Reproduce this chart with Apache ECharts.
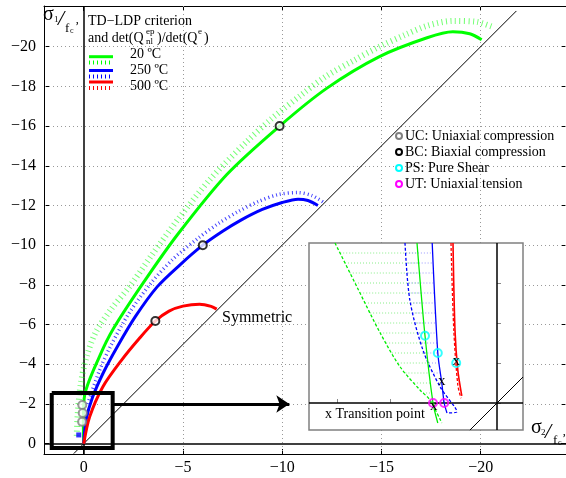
<!DOCTYPE html>
<html><head><meta charset="utf-8">
<script src="https://cdn.jsdelivr.net/npm/echarts@6/dist/echarts.min.js"></script>
<style>html,body{margin:0;padding:0;background:#fff}#c{width:566px;height:478px}</style>
</head><body><div id="c"></div>
<script>
// ---------- main chart data (sigma2/fc', sigma1/fc') ----------
const xTicks = [0, -5, -10, -15, -20];
const yTicks = [0, -2, -4, -6, -8, -10, -12, -14, -16, -18, -20];

const green20 = [[0,0],[0.02,-1.2],[-0.05,-2.45],[-0.8,-4.4],[-1.5,-5.8],[-3.0,-8.1],[-4.74,-10.55],[-7.2,-13.55],[-9.87,-16.0],[-12.24,-17.9],[-14.9,-19.5],[-17.3,-20.45],[-18.6,-20.75],[-19.45,-20.65],[-20.05,-20.35]];
const green20Det = [[0.35,-0.4],[0.3,-1.5],[0.15,-3.0],[-0.15,-4.4],[-0.6,-5.6],[-1.4,-6.8],[-2.3,-7.9],[-3.5,-9.6],[-4.75,-11.3],[-6.35,-13.3],[-8.2,-15.2],[-9.5,-16.4],[-11.0,-17.6],[-12.2,-18.5],[-13.6,-19.3],[-14.9,-20.0],[-16.2,-20.6],[-17.3,-21.05],[-18.6,-21.3],[-19.8,-21.25],[-20.6,-21.0]];
const blue250 = [[0,0],[-0.12,-1.2],[-0.45,-2.35],[-1.0,-3.6],[-1.7,-4.9],[-2.6,-6.4],[-3.7,-7.9],[-4.84,-9.0],[-6.0,-10.0],[-7.0,-10.7],[-7.9,-11.25],[-9.0,-11.8],[-10.0,-12.15],[-10.8,-12.32],[-11.3,-12.25],[-11.8,-12.0]];
const blue250Det = [[-0.2,-2.0],[-0.8,-3.7],[-1.4,-5.0],[-2.3,-6.6],[-3.4,-8.1],[-4.5,-9.3],[-5.7,-10.3],[-6.8,-11.1],[-7.8,-11.7],[-8.8,-12.2],[-9.8,-12.55],[-10.8,-12.65],[-11.5,-12.5],[-12.1,-12.15]];
const red500 = [[0,0],[-0.3,-1.35],[-0.96,-2.86],[-1.9,-4.2],[-2.8,-5.3],[-3.61,-6.18],[-4.3,-6.68],[-5.0,-6.93],[-5.84,-7.03],[-6.42,-6.92],[-6.7,-6.78]];
const ucPoints = [[0.07,-1.95],[0.05,-1.55],[0.08,-1.1]];
const bcPoints = [[-9.87,-16.0],[-6.0,-10.0],[-3.61,-6.18]];
const bluePoint = [[0.25,-0.44]];
const symmetricLine = [[0.5,0.5],[-21.8,-21.8]];
const zoomBoxX = [1.61, -1.46];
const zoomBoxY = [-2.55, 0.22];
const arrowFrom = [-1.46, -2.0];
const arrowTo = [-10.36, -2.0];

// ---------- inset data (zoom around the origin) ----------
const insetXTicks = [0.0675, 0.134, 0.2];
const insetYTicks = [-0.15, -0.1, -0.05, 0];
const insetGreen = [[0.1,-0.2],[0.09,-0.084],[0.08,0],[0.074,0.025]];
const insetGreenDet = [[0.2025,-0.2],[0.175,-0.145],[0.146,-0.0875],[0.121,-0.045],[0.096,-0.016],[0.084,-0.004],[0.069,0.025]];
const insetBlue = [[0.081,-0.2],[0.074,-0.0625],[0.069,-0.025],[0.066,0],[0.0625,0.0125]];
const insetBlueDet = [[0.115,-0.2],[0.109,-0.129],[0.0925,-0.066],[0.071,-0.02],[0.05,0.011],[0.0625,0.0125]];
const insetRed = [[0.055,-0.2],[0.0525,-0.091],[0.049,-0.041],[0.044,-0.009]];
const insetRedDet = [[0.0575,-0.2],[0.054,-0.091],[0.049,-0.0225],[0.045,-0.006]];
const psPoints = [[0.09,-0.084],[0.074,-0.0625],[0.051,-0.05]];
const utPoints = [[0.08,0],[0.066,0]];
const transPoints = [[0.079,0.006],[0.069,-0.025],[0.051,-0.05]];
const insetDiagonal = [[0.034,0.034],[-0.0325,-0.0325]];
// hatch rows: [sigma1, x on det curve, x on criterion curve]
const greenHatch = [[-0.1875,0.196,0.0989],[-0.175,0.19,0.0978],[-0.1625,0.184,0.0968],[-0.15,0.1775,0.0957],[-0.1375,0.171,0.0946],[-0.125,0.165,0.0935],[-0.1125,0.1586,0.0925],[-0.1,0.1523,0.0914],[-0.0875,0.146,0.0903],[-0.075,0.1386,0.0889],[-0.0625,0.1313,0.0874],[-0.05,0.124,0.086],[-0.0375,0.1145,0.0845],[-0.025,0.1038,0.083],[-0.0125,0.0925,0.0815]];
const blueHatch = [[-0.1875,0.1139,0.0804],[-0.175,0.1129,0.0797],[-0.1625,0.1118,0.0791],[-0.15,0.1108,0.0785],[-0.1375,0.1097,0.0778],[-0.125,0.108,0.0772],[-0.1125,0.1047,0.0766],[-0.1,0.1014,0.0759],[-0.0875,0.0981,0.0753],[-0.075,0.0949,0.0746],[-0.0625,0.0909,0.074],[-0.05,0.085,0.0723],[-0.0375,0.0792,0.0707],[-0.025,0.0733,0.069],[-0.0125,0.0659,0.0675],[0,0.0575,0.066]];

const SERIF = '"Liberation Serif","Times New Roman",serif';
const minus = v => v === 0 ? '0' : (v < 0 ? '\u2212' + Math.abs(v) : String(v));

function txt(t, x, y, size, extra) {
  return { type: 'text', z: 40, silent: true,
    style: Object.assign({ text: t, x: x, y: y, fill: '#000', font: size + 'px ' + SERIF, align: 'left', verticalAlign: 'middle' }, extra || {}) };
}
function gline(x1, y1, x2, y2, stroke, w, dash) {
  const s = { stroke: stroke, lineWidth: w };
  if (dash) s.lineDash = dash;
  return { type: 'line', z: 40, silent: true, shape: { x1, y1, x2, y2 }, style: s };
}
function gcircle(cx, cy, color) {
  return { type: 'circle', z: 40, silent: true, shape: { cx, cy, r: 3 }, style: { fill: '#fff', stroke: color, lineWidth: 2 } };
}
function hatchSeries(data, color) {
  return { type: 'custom', xAxisIndex: 2, yAxisIndex: 2, z: 20, silent: true, data: data,
    encode: { x: [1, 2], y: 0 },
    renderItem: function (params, api) {
      const p1 = api.coord([api.value(1), api.value(0)]);
      const p2 = api.coord([api.value(2), api.value(0)]);
      return { type: 'line', shape: { x1: p1[0], y1: p1[1], x2: p2[0], y2: p2[1] },
        style: { stroke: color, lineWidth: 1, lineDash: [1, 2] } };
    } };
}
const boxData = [[zoomBoxX[0],zoomBoxY[0]],[zoomBoxX[1],zoomBoxY[0]],[zoomBoxX[1],zoomBoxY[1]],[zoomBoxX[0],zoomBoxY[1]],[zoomBoxX[0],zoomBoxY[0]]];

const chart = echarts.init(document.getElementById('c'), null, { renderer: 'canvas' });
const axisCommon = { axisLine: { show: true, onZero: false, lineStyle: { color: '#000', width: 1 } }, splitLine: { show: false } };

const option = {
  animation: false,
  backgroundColor: '#fff',
  grid: [
    { left: 44, top: 6, width: 523, height: 448 },
    { left: 309, top: 243, width: 214, height: 187 }
  ],
  xAxis: [
    Object.assign({ type: 'value', gridIndex: 0, min: -24.3, max: 2, inverse: true, position: 'bottom',
      axisTick: { show: true, inside: true, length: 5, customValues: xTicks, lineStyle: { color: '#000' } },
      axisLabel: { show: true, customValues: xTicks, formatter: minus, fontFamily: SERIF, fontSize: 16, color: '#000', margin: 6 } }, axisCommon),
    Object.assign({ type: 'value', gridIndex: 0, min: -24.3, max: 2, inverse: true, position: 'top',
      axisTick: { show: true, inside: true, length: 5, customValues: xTicks, lineStyle: { color: '#000' } },
      axisLabel: { show: false } }, axisCommon),
    { type: 'value', gridIndex: 1, min: -0.0325, max: 0.235, inverse: true, z: 20,
      axisLine: { show: false }, splitLine: { show: false },
      axisTick: { show: true, inside: true, length: 4, customValues: insetXTicks, lineStyle: { color: '#888' } },
      axisLabel: { show: false } }
  ],
  yAxis: [
    Object.assign({ type: 'value', gridIndex: 0, min: -22.05, max: 0.52, inverse: true, position: 'left',
      axisTick: { show: true, inside: true, length: 5, customValues: yTicks, lineStyle: { color: '#000' } },
      axisLabel: { show: true, customValues: yTicks, formatter: minus, fontFamily: SERIF, fontSize: 16, color: '#000', margin: 8 } }, axisCommon),
    Object.assign({ type: 'value', gridIndex: 0, min: -22.05, max: 0.52, inverse: true, position: 'right',
      axisTick: { show: true, inside: true, length: 5, customValues: yTicks, lineStyle: { color: '#000' } },
      axisLabel: { show: false } }, axisCommon),
    { type: 'value', gridIndex: 1, min: -0.2, max: 0.03375, inverse: true, z: 20,
      axisLine: { show: false }, splitLine: { show: false },
      axisTick: { show: true, inside: true, length: 4, customValues: insetYTicks, lineStyle: { color: '#888' } },
      axisLabel: { show: false } }
  ],
  series: [
    { type: 'line', xAxisIndex: 0, yAxisIndex: 0, data: [], z: 1, silent: true,
      markLine: { silent: true, z: 1, symbol: ['none', 'none'], label: { show: false }, animation: false,
        lineStyle: { type: [1, 3], color: '#999', width: 1 },
        data: xTicks.filter(v => v !== 0).map(v => ({ xAxis: v })).concat(yTicks.filter(v => v !== 0).map(v => ({ yAxis: v }))) } },
    { type: 'line', xAxisIndex: 0, yAxisIndex: 0, data: [], z: 3, silent: true,
      markLine: { silent: true, z: 3, symbol: ['none', 'none'], label: { show: false }, animation: false,
        lineStyle: { type: 'solid', color: '#000', width: 1.5 },
        data: [{ xAxis: 0 }, { yAxis: 0 }] } },
    { type: 'line', xAxisIndex: 0, yAxisIndex: 0, data: symmetricLine, symbol: 'none', z: 3, silent: true,
      lineStyle: { color: '#000', width: 1 } },
    { type: 'line', xAxisIndex: 0, yAxisIndex: 0, data: green20Det, symbol: 'none', smooth: 0.3, z: 4, silent: true,
      lineStyle: { color: '#00ff00', width: 6, type: [1, 3.5], opacity: 0.55 } },
    { type: 'line', xAxisIndex: 0, yAxisIndex: 0, data: blue250Det, symbol: 'none', smooth: 0.3, z: 4, silent: true,
      lineStyle: { color: '#0000ff', width: 3.5, type: [1, 3], opacity: 0.75 } },
    { type: 'line', xAxisIndex: 0, yAxisIndex: 0, data: green20, symbol: 'none', smooth: 0.3, z: 5, silent: true,
      lineStyle: { color: '#00ff00', width: 3 } },
    { type: 'line', xAxisIndex: 0, yAxisIndex: 0, data: blue250, symbol: 'none', smooth: 0.3, z: 5, silent: true,
      lineStyle: { color: '#0000ff', width: 3 } },
    { type: 'line', xAxisIndex: 0, yAxisIndex: 0, data: red500, symbol: 'none', smooth: 0.3, z: 5, silent: true,
      lineStyle: { color: '#ff0000', width: 3 } },
    { type: 'scatter', xAxisIndex: 0, yAxisIndex: 0, data: ucPoints, symbol: 'circle', symbolSize: 8, z: 6, silent: true,
      itemStyle: { color: '#fff', borderColor: '#808080', borderWidth: 2 } },
    { type: 'scatter', xAxisIndex: 0, yAxisIndex: 0, data: bcPoints, symbol: 'circle', symbolSize: 8, z: 6, silent: true,
      itemStyle: { color: '#fff', borderColor: '#000', borderWidth: 2 } },
    { type: 'scatter', xAxisIndex: 0, yAxisIndex: 0, data: bluePoint, symbol: 'rect', symbolSize: 5, z: 6, silent: true,
      itemStyle: { color: '#0000ff' } },
    { type: 'line', xAxisIndex: 0, yAxisIndex: 0, data: boxData, symbol: 'none', z: 7, silent: true,
      lineStyle: { color: '#000', width: 4, join: 'miter' } },
    { type: 'line', xAxisIndex: 0, yAxisIndex: 0, data: [], z: 7, silent: true,
      markLine: { silent: true, z: 7, symbol: ['none', 'arrow'], symbolSize: 13, label: { show: false }, animation: false,
        lineStyle: { type: 'solid', color: '#000', width: 3 },
        data: [[{ coord: arrowFrom }, { coord: arrowTo }]] } },

    // ---- inset ----
    hatchSeries(greenHatch, '#88ee88'),
    hatchSeries(blueHatch, '#9999ff'),
    { type: 'line', xAxisIndex: 2, yAxisIndex: 2, data: [], z: 21, silent: true,
      markLine: { silent: true, z: 21, symbol: ['none', 'none'], label: { show: false }, animation: false,
        lineStyle: { type: 'solid', color: '#000', width: 1.5 },
        data: [{ xAxis: 0 }, { yAxis: 0 }] } },
    { type: 'line', xAxisIndex: 2, yAxisIndex: 2, data: insetDiagonal, symbol: 'none', z: 21, silent: true,
      lineStyle: { color: '#000', width: 1 } },
    { type: 'line', xAxisIndex: 2, yAxisIndex: 2, data: insetGreenDet, symbol: 'none', smooth: 0.3, z: 22, silent: true,
      lineStyle: { color: '#00ee00', width: 1.3, type: [3, 2] } },
    { type: 'line', xAxisIndex: 2, yAxisIndex: 2, data: insetBlueDet, symbol: 'none', smooth: 0.3, z: 22, silent: true,
      lineStyle: { color: '#0000ff', width: 1.3, type: [3, 2] } },
    { type: 'line', xAxisIndex: 2, yAxisIndex: 2, data: insetRedDet, symbol: 'none', smooth: 0.3, z: 22, silent: true,
      lineStyle: { color: '#ff0000', width: 1.3, type: [3, 2] } },
    { type: 'line', xAxisIndex: 2, yAxisIndex: 2, data: insetGreen, symbol: 'none', smooth: 0.3, z: 23, silent: true,
      lineStyle: { color: '#00ee00', width: 1.3 } },
    { type: 'line', xAxisIndex: 2, yAxisIndex: 2, data: insetBlue, symbol: 'none', smooth: 0.3, z: 23, silent: true,
      lineStyle: { color: '#0000ff', width: 1.3 } },
    { type: 'line', xAxisIndex: 2, yAxisIndex: 2, data: insetRed, symbol: 'none', smooth: 0.3, z: 23, silent: true,
      lineStyle: { color: '#ff0000', width: 1.6 } },
    { type: 'scatter', xAxisIndex: 2, yAxisIndex: 2, data: psPoints, symbol: 'circle', symbolSize: 8, z: 24, silent: true,
      itemStyle: { color: 'rgba(255,255,255,0)', borderColor: '#00ffff', borderWidth: 2 } },
    { type: 'scatter', xAxisIndex: 2, yAxisIndex: 2, data: utPoints, symbol: 'circle', symbolSize: 8, z: 24, silent: true,
      itemStyle: { color: 'rgba(255,255,255,0)', borderColor: '#ff00ff', borderWidth: 2 } },
    { type: 'custom', xAxisIndex: 2, yAxisIndex: 2, data: transPoints, z: 25, silent: true,
      encode: { x: 0, y: 1 },
      renderItem: function (params, api) {
        const p = api.coord([api.value(0), api.value(1)]);
        return { type: 'text', z2: 50, style: { text: 'x', x: p[0], y: p[1] - 2, align: 'center', verticalAlign: 'middle',
          font: '15px ' + SERIF, fill: '#000' } };
      } }
  ],
  graphic: [
    { type: 'rect', z: 10, silent: true, shape: { x: 309, y: 243, width: 214, height: 187 },
      style: { fill: '#fff', stroke: '#808080', lineWidth: 1.5 } },
    // legend of criteria
    txt('TD\u2212LDP criterion', 88, 21, 14),
    txt('and det(Q', 88, 38, 14),
    txt('ep', 146, 32, 9),
    txt('nl', 146, 42, 9),
    txt(')/det(Q', 157, 38, 14),
    txt('e', 198, 32, 9),
    txt(')', 204, 38, 14),
    gline(89, 56.7, 113, 56.7, '#00ff00', 3),
    gline(89, 62.5, 113, 62.5, '#00ff00', 4, [1, 3]),
    gline(89, 70.5, 113, 70.5, '#0000ff', 3),
    gline(89, 76.5, 113, 76.5, '#0000ff', 4, [1, 3]),
    gline(89, 82, 113, 82, '#ff0000', 3),
    gline(89, 88, 113, 88, '#ff0000', 4, [1, 3]),
    txt('20 \u00baC', 130, 54, 14),
    txt('250 \u00baC', 130, 70, 14),
    txt('500 \u00baC', 130, 86, 14),
    // legend of load cases
    gcircle(399, 136, '#808080'), txt('UC: Uniaxial compression', 405, 136, 14),
    gcircle(399, 152, '#000000'), txt('BC: Biaxial compression', 405, 152, 14),
    gcircle(399, 168, '#00ffff'), txt('PS: Pure Shear', 405, 168, 14),
    gcircle(399, 184, '#ff00ff'), txt('UT: Uniaxial tension', 405, 184, 14),
    txt('Symmetric', 222, 318, 16),
    txt('x Transition point', 325, 414, 14),
    // axis titles
    txt('\u03c3', 43, 15, 20),
    txt('1', 54, 20, 9),
    txt('/', 58, 19, 22, { font: 'italic 22px ' + SERIF }),
    txt('f', 65, 29, 13),
    txt('c', 70, 31, 8),
    txt('\u2019', 75, 27, 13),
    txt('\u03c3', 531, 428, 20),
    txt('2', 541, 433, 9),
    txt('/', 545, 432, 22, { font: 'italic 22px ' + SERIF }),
    txt('f', 553, 441, 13),
    txt('c', 558, 443, 8),
    txt('\u2019', 562, 439, 13)
  ]
};
chart.setOption(option);
</script>
</body></html>
